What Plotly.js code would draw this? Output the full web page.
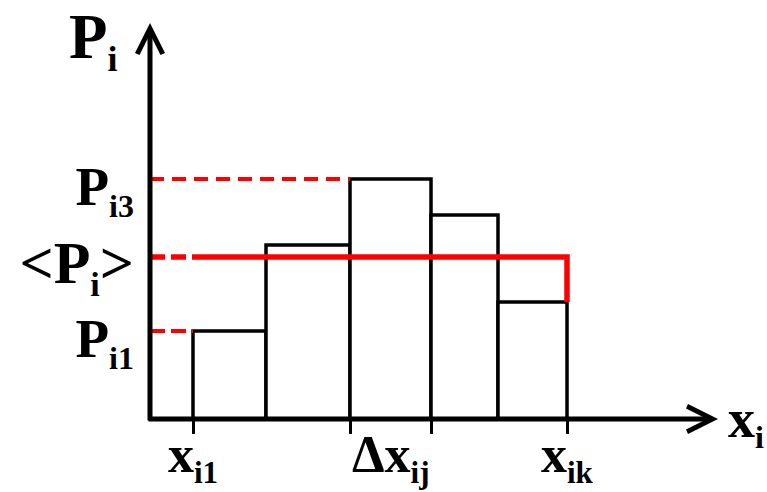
<!DOCTYPE html>
<html><head><meta charset="utf-8">
<script src="https://cdn.plot.ly/plotly-3.0.1.min.js"></script>
<style>html,body{margin:0;padding:0;background:#fff}</style>
</head><body>
<div id="chart" style="width:767px;height:492px"></div>
<script>
// bin edges along x_i (arbitrary units)
const binEdges = [4.3, 11.6, 20.0, 28.1, 34.8, 41.7];
// histogram bar heights P_ij
const binHeights = [8.8, 17.4, 24.0, 20.4, 11.7];
// mean value <P_i>
const meanP = 16.2;
// y tick labels
const yTickVals = [8.8, 16.2, 24.0];
const yTickText = [
  'P<sub><span style="font-size:32px">i1</span></sub>',
  '<span style="font-size:60px">&lt;P<sub><span style="font-size:34px">i</span></sub>&gt;</span>',
  'P<sub><span style="font-size:32px">i3</span></sub>'
];
// x tick marks (bin edges)
const xTickVals = [4.3, 20.0, 28.1, 41.7];
// x labels and the positions they label
const xLabelPos = [4.3, 24.05, 41.7];
const xLabelText = [
  'x<sub><span style="font-size:31px">i1</span></sub>',
  'Δx<sub><span style="font-size:31px">ij</span></sub>',
  'x<sub><span style="font-size:31px">ik</span></sub>'
];
const yAxisTitle = 'P<sub><span style="font-size:36px">i</span></sub>';
const xAxisTitle = 'x<sub><span style="font-size:32px">i</span></sub>';
const xMax = 56.8, yMax = 39.6;

const centers = binHeights.map((_, i) => (binEdges[i] + binEdges[i + 1]) / 2);
const widths = binHeights.map((_, i) => binEdges[i + 1] - binEdges[i]);
const FONT = 'Liberation Serif, Times New Roman, serif';
const RED = '#ff0000';

const traces = [
  {
    type: 'bar', x: centers, y: binHeights, width: widths,
    marker: {color: '#ffffff', line: {color: '#000000', width: 3.5}},
    hoverinfo: 'skip'
  },
  { // P_i3 level
    type: 'scatter', mode: 'lines',
    x: [0, binEdges[2]], y: [binHeights[2], binHeights[2]],
    line: {color: RED, width: 4, dash: '14px,8px'}
  },
  { // P_i1 level
    type: 'scatter', mode: 'lines',
    x: [0, binEdges[0]], y: [binHeights[0], binHeights[0]],
    line: {color: RED, width: 4, dash: '15px,6px'}
  },
  { // mean, dashed part to the first bin
    type: 'scatter', mode: 'lines',
    x: [0, binEdges[0]], y: [meanP, meanP],
    line: {color: RED, width: 5.5, dash: '15px,6px'}
  },
  { // mean, solid part over the bins, down to last bin top
    type: 'scatter', mode: 'lines',
    x: [binEdges[0], binEdges[5], binEdges[5]],
    y: [meanP, meanP, binHeights[4]],
    line: {color: RED, width: 5.5}
  }
];

const annotations = [
  { // y axis arrow
    x: 0, y: yMax, ax: 0, ay: -0.3, xref: 'x', yref: 'y', axref: 'x', ayref: 'y',
    text: '', showarrow: true, arrowhead: 5, arrowsize: 1, arrowwidth: 5, arrowcolor: '#000', standoff: 0
  },
  { // x axis arrow
    x: xMax, y: 0, ax: -0.3, ay: 0, xref: 'x', yref: 'y', axref: 'x', ayref: 'y',
    text: '', showarrow: true, arrowhead: 5, arrowsize: 1, arrowwidth: 5, arrowcolor: '#000', standoff: 0
  },
  { // y axis title
    x: 0, y: yMax, xref: 'x', yref: 'y', xanchor: 'right', yanchor: 'top',
    xshift: -30, yshift: 23, showarrow: false, text: yAxisTitle,
    font: {family: FONT, size: 63, weight: 'bold', color: '#000'}
  },
  { // x axis title
    x: xMax, y: 0, xref: 'x', yref: 'y', xanchor: 'left', yanchor: 'top',
    xshift: 8, yshift: 32, showarrow: false, text: xAxisTitle,
    font: {family: FONT, size: 54, weight: 'bold', color: '#000'}
  }
].concat(xLabelPos.map((p, i) => ({
  x: p, y: 0, xref: 'x', yref: 'y', xanchor: 'center', yanchor: 'top',
  yshift: -5, showarrow: false, text: xLabelText[i],
  font: {family: FONT, size: 52, weight: 'bold', color: '#000'}
})));

const layout = {
  width: 767, height: 492,
  margin: {l: 150, r: 49, t: 23, b: 73, pad: 0},
  paper_bgcolor: '#fff', plot_bgcolor: '#fff',
  showlegend: false,
  bargap: 0,
  xaxis: {
    range: [0, xMax], showgrid: false, zeroline: false, showline: false,
    tickvals: xTickVals, showticklabels: false,
    ticks: 'outside', ticklen: 14, tickwidth: 3, tickcolor: '#000'
  },
  yaxis: {
    range: [0, yMax], showgrid: false, zeroline: false, showline: false,
    tickvals: yTickVals, ticktext: yTickText, ticks: '',
    ticklabelstandoff: 15, ticklabelshift: 7,
    tickfont: {family: FONT, size: 55, weight: 'bold', color: '#000'}
  },
  annotations: annotations
};

Plotly.newPlot('chart', traces, layout, {staticPlot: true, displayModeBar: false});
</script>
</body></html>
